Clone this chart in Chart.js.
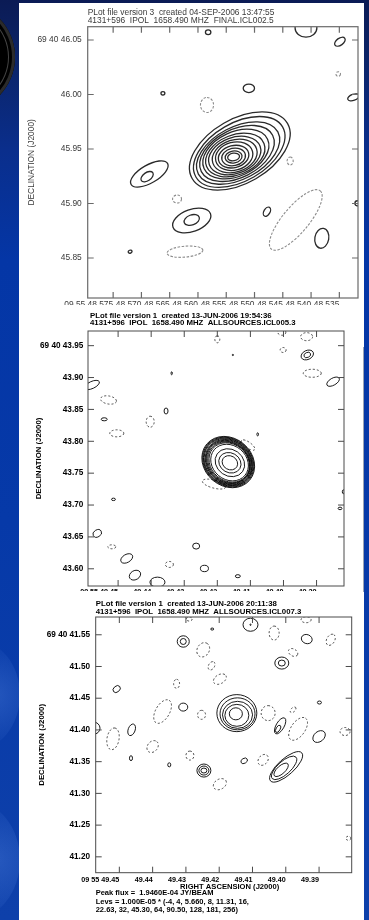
<!DOCTYPE html>
<html>
<head>
<meta charset="utf-8">
<script src="https://cdn.jsdelivr.net/npm/chart.js@4.4.1/dist/chart.umd.min.js"></script>
<style>
  html, body { margin: 0; padding: 0; }
  body {
    width: 369px; height: 920px; overflow: hidden; position: relative;
    background: linear-gradient(180deg, #0b1b55 0px, #0b2468 60px, #0a2e8c 150px, #0436a6 260px, #0639a8 520px, #0e40aa 920px);
  }
  .orb { position: absolute; border-radius: 50%; }
  #sheet { position: absolute; left: 19px; top: 3px; width: 345px; height: 917px; background: #fff; }
  .panel { position: absolute; left: 19px; width: 345px; overflow: hidden; }
  .panel canvas { position: absolute; left: 0; top: 0; }
  #edge2 { position: absolute; left: 363px; top: 347px; width: 1px; height: 245px; background: #9aa3b5; }
</style>
</head>
<body>
<div class="orb" style="left:-95px;top:2px;width:110px;height:110px;background:#000;box-shadow:inset 0 0 0 3px #2b2b2b, inset 0 0 0 6px #000, inset 0 0 0 7px #444;"></div>
<div class="orb" style="left:-70px;top:640px;width:90px;height:110px;background:radial-gradient(circle at 70% 50%, rgba(70,120,215,0.45), rgba(70,120,215,0) 70%);"></div>
<div class="orb" style="left:-80px;top:800px;width:100px;height:120px;background:radial-gradient(circle at 75% 50%, rgba(70,120,215,0.45), rgba(70,120,215,0) 70%);"></div>
<div id="sheet"></div>
<div id="edge2"></div>
<div class="panel" style="top:3px;height:302px;"><canvas id="c1" width="345" height="330" style="filter:blur(0.45px)"></canvas></div>
<div class="panel" style="top:305px;height:286px;"><canvas id="c2" width="345" height="310"></canvas></div>
<div class="panel" style="top:591px;height:329px;"><canvas id="c3" width="345" height="329"></canvas></div>

<script>
// ---------- FINAL.ICL002.5 (04-SEP-2006) ----------
const p1RaTicks  = [48.575, 48.570, 48.565, 48.560, 48.555, 48.550, 48.545, 48.540, 48.535];
const p1RaLabels = ['09 55 48.575', '48.570', '48.565', '48.560', '48.555', '48.550', '48.545', '48.540', '48.535'];
const p1DecTicks  = [46.05, 46.00, 45.95, 45.90, 45.85];
const p1DecLabels = ['69 40 46.05', '46.00', '45.95', '45.90', '45.85'];
const p1RaRange  = [48.5317, 48.5795];
const p1DecRange = [45.8133, 46.0622];
// contour ellipses: centre (RA s, Dec arcsec), semi-axes (mas), position angle (deg), level
const p1RA = [48.5582, 48.5409, 48.5349, 48.5352, 48.5662, 48.5510, 48.5325, 48.5584,
  48.5526, 48.5527, 48.5529, 48.5531, 48.5533, 48.5534, 48.5535, 48.5535, 48.5536, 48.5537, 48.5537, 48.5537, 48.5537,
  48.5686, 48.5690, 48.5637, 48.5611, 48.5611, 48.5623, 48.5720, 48.5437, 48.5478, 48.5427, 48.5381, 48.5318];
const p1Dec = [46.0571, 46.0610, 46.0484, 46.0188, 46.0011, 46.0057, 45.9974, 45.9904,
  45.9482, 45.9473, 45.9463, 45.9459, 45.9454, 45.9445, 45.9440, 45.9436, 45.9434, 45.9430, 45.9427, 45.9427, 45.9427,
  45.9271, 45.9246, 45.9041, 45.8844, 45.8849, 45.8558, 45.8558, 45.9390, 45.8925, 45.8849, 45.8681, 45.9002];
const p1Major = [2.5, 10, 5.5, 2.1, 1.8, 5.2, 5.5, 6.9,
  50.5, 45.9, 41.3, 36.7, 32.1, 28.4, 24.8, 21.1, 17.4, 14.2, 11.0, 7.8, 5.5,
  19.3, 6.4, 4.1, 18.3, 7.3, 16.5, 1.8, 3.7, 4.6, 34.9, 9.2, 2.3];
const p1Minor = [2.1, 8.3, 3.2, 2.1, 1.6, 3.9, 2.8, 6.0,
  29.4, 26.6, 23.9, 22.0, 20.2, 18.3, 16.5, 14.7, 12.8, 10.1, 8.0, 5.5, 3.5,
  8.3, 3.7, 3.7, 10.1, 4.6, 5.0, 1.4, 2.8, 2.8, 11.9, 6.4, 2.3];
const p1PA = [0, 0, 35, 0, 0, 0, 20, 90,
  30, 30, 28, 27, 25, 22, 20, 18, 15, 14, 12, 10, 10,
  30, 35, 0, 20, 20, 5, 20, 90, 60, 50, 80, 0];
const p1Lev = [4, 4, 4, -4, 4, 4, 4, -4,
  4, 5.66, 8, 11.31, 16, 22.63, 32, 45.3, 64, 90.5, 128, 181, 256,
  4, 5.66, -4, 4, 5.66, -4, 4, -4, 4, -4, 4, 4];

// ---------- ALLSOURCES.ICL005.3 (13-JUN-2006 19:54) ----------
const p2RaTicks  = [49.45, 49.44, 49.43, 49.42, 49.41, 49.40, 49.39];
const p2RaLabels = ['09 55 49.45', '49.44', '49.43', '49.42', '49.41', '49.40', '49.39'];
const p2DecTicks  = [43.95, 43.90, 43.85, 43.80, 43.75, 43.70, 43.65, 43.60];
const p2DecLabels = ['69 40 43.95', '43.90', '43.85', '43.80', '43.75', '43.70', '43.65', '43.60'];
const p2RaRange  = [49.3817, 49.4591];
const p2DecRange = [43.573, 43.973];
const p2RA = [49.4200, 49.4005, 49.3930, 49.4001, 49.3928, 49.3928, 49.3913, 49.3850, 49.4153, 49.4338,
  49.4579, 49.4529, 49.4355, 49.4403, 49.4542, 49.4504, 49.4078, 49.4107, 49.4210,
  49.4167, 49.4167, 49.4167, 49.4167, 49.4166, 49.4166, 49.4166, 49.4165, 49.4164, 49.4163, 49.4162, 49.4162, 49.4162,
  49.3819, 49.3829, 49.4514, 49.4563, 49.4519, 49.4474, 49.4449, 49.4381, 49.4345, 49.4264, 49.4239, 49.4138];
const p2Dec = [43.9600, 43.9710, 43.9641, 43.9432, 43.9354, 43.9354, 43.9067, 43.8935, 43.9354, 43.9067,
  43.8883, 43.8648, 43.8475, 43.8307, 43.8345, 43.8125, 43.8109, 43.7941, 43.7329,
  43.7674, 43.7674, 43.7674, 43.7673, 43.7672, 43.7671, 43.7670, 43.7669, 43.7668, 43.7666, 43.7664, 43.7663, 43.7663,
  43.7208, 43.6947, 43.7089, 43.6555, 43.6345, 43.6162, 43.5900, 43.5790, 43.6068, 43.6356, 43.6005, 43.5884];
const p2Major = [5.5, 6.3, 9.4, 4.7, 10.2, 5.5, 14.1, 11.0, 1.0, 2.4,
  12.6, 12.6, 4.7, 8.6, 4.7, 11.0, 2.4, 12.6, 18.8,
  44.0, 42.7, 41.4, 40.2, 38.9, 37.7, 36.4, 35.2, 33.8, 31.4, 24.3, 18.1, 12.6,
  3.0, 3.0, 3.1, 7.1, 6.3, 10.2, 9.4, 11.8, 6.3, 5.5, 6.3, 3.9];
const p2Minor = [3.9, 4.7, 6.3, 3.9, 7.1, 3.9, 6.3, 5.5, 1.0, 1.0,
  5.5, 6.3, 3.1, 6.3, 2.4, 5.5, 1.3, 4.7, 6.3,
  37.4, 36.3, 35.2, 34.2, 33.1, 32.0, 30.9, 29.9, 28.7, 26.7, 20.7, 15.4, 10.7,
  1.6, 2.0, 1.9, 5.5, 3.1, 6.3, 7.1, 7.9, 4.7, 4.7, 5.0, 2.4];
const p2PA = [90, 0, 0, 0, 25, 25, 0, 30, 0, 90,
  25, -10, 90, 90, 0, 0, 90, -35, -15,
  -40, -40, -40, -40, -40, -40, -40, -40, -40, -40, -35, -30, -30,
  90, 0, 0, 30, 0, 30, 30, 0, 0, 0, 0, 0];
const p2Lev = [-4, -4, -4, -4, 4, 5.66, -4, 4, 4, 4,
  4, -4, 4, -4, 4, -4, 4, -4, -4,
  4, 5.66, 8, 11.31, 16, 22.63, 32, 45.3, 64, 90.5, 128, 181, 256,
  4, 4, 4, 4, -4, 4, 4, 4, -4, 4, 4, 4];

// ---------- ALLSOURCES.ICL007.3 (13-JUN-2006 20:11) ----------
const p3RaTicks  = [49.45, 49.44, 49.43, 49.42, 49.41, 49.40, 49.39];
const p3RaLabels = ['09 55 49.45', '49.44', '49.43', '49.42', '49.41', '49.40', '49.39'];
const p3DecTicks  = [41.55, 41.50, 41.45, 41.40, 41.35, 41.30, 41.25, 41.20];
const p3DecLabels = ['69 40 41.55', '41.50', '41.45', '41.40', '41.35', '41.30', '41.25', '41.20'];
const p3RaRange  = [49.3802, 49.4571];
const p3DecRange = [41.175, 41.578];
const p3RA = [49.4290, 49.4221, 49.4106, 49.4106, 49.4035, 49.3939, 49.3937, 49.3865, 49.4308, 49.4308,
  49.4248, 49.3978, 49.4012, 49.4012, 49.4223, 49.4198, 49.4328, 49.4508, 49.3899,
  49.4147, 49.4145, 49.4145, 49.4147, 49.4150,
  49.4370, 49.4308, 49.4253, 49.4053, 49.4017, 49.4023, 49.3978, 49.3963, 49.3900, 49.3822,
  49.4579, 49.4463, 49.4519, 49.4400, 49.4465, 49.4350, 49.4288, 49.4246, 49.4246, 49.4246,
  49.4198, 49.4125, 49.4068, 49.3999, 49.4005, 49.4014, 49.3812];
const p3Dec = [41.5748, 41.5590, 41.5658, 41.5658, 41.5527, 41.5737, 41.5432, 41.5421, 41.5394, 41.5394,
  41.5263, 41.5221, 41.5054, 41.5054, 41.5011, 41.4801, 41.4727, 41.4644, 41.4432,
  41.4265, 41.4254, 41.4238, 41.4230, 41.4254,
  41.4290, 41.4360, 41.4238, 41.4265, 41.4065, 41.4017, 41.4317, 41.4017, 41.3896, 41.3975,
  41.4028, 41.4002, 41.3860, 41.3738, 41.3555, 41.3450, 41.3596, 41.3360, 41.3360, 41.3360,
  41.3145, 41.3513, 41.3528, 41.3418, 41.3402, 41.3371, 41.2293];
const p3Major = [4.7, 2.4, 11.8, 1.0, 11.0, 7.9, 8.7, 9.5, 9.5, 4.7,
  11.8, 7.9, 11.0, 5.5, 7.1, 11.0, 7.1, 6.3, 3.2,
  31.5, 27.6, 23.7, 18.9, 10.3,
  20.5, 7.1, 7.1, 11.8, 14.2, 6.3, 5.5, 20.5, 11.0, 7.9,
  11.0, 9.5, 17.3, 10.3, 3.9, 3.2, 7.1, 11.0, 7.9, 4.7,
  11.0, 5.5, 9.5, 33.1, 25.2, 14.2, 3.9];
const p3Minor = [3.2, 1.6, 10.3, 1.0, 7.9, 4.7, 7.1, 6.3, 9.0, 4.7,
  9.5, 5.5, 9.5, 4.7, 4.7, 7.1, 4.7, 4.7, 2.4,
  29.2, 25.2, 21.3, 17.3, 9.5,
  11.0, 6.3, 6.3, 11.0, 6.3, 3.2, 3.2, 11.0, 7.9, 6.3,
  9.9, 5.5, 9.5, 7.9, 2.4, 2.4, 6.3, 10.3, 7.1, 3.9,
  7.9, 3.9, 7.1, 12.6, 10.3, 6.3, 3.2];
const p3PA = [0, 0, 0, 0, 90, 0, -20, 60, 0, 0,
  60, -30, 0, 0, 60, 30, 90, 40, 0,
  0, 0, 0, 0, 0,
  60, 0, 90, 90, 60, 60, 45, 55, 40, 0,
  0, 70, 80, 50, 90, 90, 90, 0, 0, 0,
  30, 30, 50, 42, 42, 42, 0];
const p3Lev = [-4, 4, 4, 5.66, -4, -4, 4, -4, 4, 5.66,
  -4, -4, 4, 5.66, -4, -4, -4, 4, 4,
  4, 5.66, 8, 11.31, 16,
  -4, 4, -4, -4, 4, 5.66, -4, -4, 4, -4,
  4, 4, -4, -4, 4, 4, -4, 4, 5.66, 8,
  -4, 4, -4, 4, 5.66, 8, -4];

const FONT = "'Liberation Sans', Arial, Helvetica, sans-serif";

// Draws every contour as an ellipse centred on its parsed point; axes in mas scaled by the Dec axis.
const contourPlugin = {
  id: 'contours',
  afterDatasetsDraw(chart, args, o) {
    const { ctx, chartArea: a, scales: { y } } = chart;
    const k = Math.abs(y.getPixelForValue(y.min) - y.getPixelForValue(y.min + 0.001));
    const pts = chart.getDatasetMeta(0).data;
    ctx.save();
    ctx.beginPath();
    ctx.rect(a.left, a.top, a.right - a.left, a.bottom - a.top);
    ctx.clip();
    pts.forEach((p, i) => {
      const neg = o.lev[i] < 0;
      ctx.beginPath();
      ctx.ellipse(p.x, p.y, o.major[i] * k, o.minor[i] * k, -o.pa[i] * Math.PI / 180, 0, Math.PI * 2);
      ctx.setLineDash(neg ? o.dash : []);
      ctx.strokeStyle = neg ? o.negColor : o.posColor;
      ctx.lineWidth = neg ? o.negWidth : o.posWidth;
      ctx.stroke();
    });
    ctx.restore();
  }
};

// Box around the map with inward tick marks on all four sides.
const framePlugin = {
  id: 'frame',
  afterDraw(chart, args, o) {
    const { ctx, chartArea: a, scales: { x, y } } = chart;
    ctx.save();
    ctx.strokeStyle = o.color;
    ctx.lineWidth = o.width;
    ctx.strokeRect(a.left, a.top, a.right - a.left, a.bottom - a.top);
    ctx.beginPath();
    x.ticks.forEach(t => {
      const px = x.getPixelForValue(t.value);
      ctx.moveTo(px, a.top); ctx.lineTo(px, a.top + o.len);
      ctx.moveTo(px, a.bottom); ctx.lineTo(px, a.bottom - o.len);
    });
    y.ticks.forEach(t => {
      const py = y.getPixelForValue(t.value);
      ctx.moveTo(a.left, py); ctx.lineTo(a.left + o.len, py);
      ctx.moveTo(a.right, py); ctx.lineTo(a.right - o.len, py);
    });
    ctx.stroke();
    ctx.restore();
  }
};

// Header / footer lines placed relative to the plot box.
const captionPlugin = {
  id: 'captions',
  afterDraw(chart, args, o) {
    const { ctx, chartArea: a } = chart;
    ctx.save();
    ctx.fillStyle = o.color;
    ctx.textBaseline = 'middle';
    o.items.forEach(it => {
      ctx.font = it.font;
      ctx.textAlign = it.align || 'left';
      const yy = it.from === 'bottom' ? a.bottom + it.dy : a.top + it.dy;
      ctx.fillText(it.text, a.left + it.dx, yy);
    });
    ctx.restore();
  }
};

function makeMap(id, s) {
  const data = s.ra.map((v, i) => ({ x: v, y: s.dec[i] }));
  return new Chart(document.getElementById(id), {
    type: 'scatter',
    data: { datasets: [{ data, pointRadius: 0, pointHoverRadius: 0, showLine: false }] },
    options: {
      responsive: false,
      animation: false,
      events: [],
      layout: { autoPadding: false, padding: s.pad },
      plugins: {
        legend: { display: false },
        tooltip: { enabled: false },
        contours: { major: s.major, minor: s.minor, pa: s.pa, lev: s.lev, dash: s.dash,
          posColor: s.posColor, negColor: s.negColor, posWidth: s.posWidth, negWidth: s.negWidth },
        frame: { color: s.frameColor, width: s.frameWidth, len: s.tickLen },
        captions: { color: s.textColor, items: s.captions }
      },
      scales: {
        x: {
          type: 'linear', reverse: true, min: s.raRange[0], max: s.raRange[1],
          afterBuildTicks: sc => { sc.ticks = s.raTicks.map(v => ({ value: v })); },
          afterFit: sc => { sc.height = s.xh; },
          grid: { display: false, drawTicks: false, tickLength: 0 },
          border: { display: false },
          ticks: { autoSkip: false, maxRotation: 0, minRotation: 0, align: 'end', padding: s.xPad,
            font: s.xFont, color: s.textColor, callback: (v, i) => s.raLabels[i] }
        },
        y: {
          type: 'linear', min: s.decRange[0], max: s.decRange[1],
          afterBuildTicks: sc => { sc.ticks = s.decTicks.map(v => ({ value: v })); },
          afterFit: sc => { sc.width = s.yw; },
          grid: { display: false, drawTicks: false, tickLength: 0 },
          border: { display: false },
          ticks: { autoSkip: false, padding: s.yPad, font: s.yFont, color: s.textColor,
            callback: (v, i) => s.decLabels[i] },
          title: { display: true, text: 'DECLINATION (J2000)', color: s.textColor, font: s.titleFont,
            padding: { top: s.titlePad, bottom: 0 } }
        }
      }
    },
    plugins: [contourPlugin, framePlugin, captionPlugin]
  });
}

const reg = (px) => ({ family: FONT, size: px, weight: 'normal' });
const bold = (px) => ({ family: FONT, size: px, weight: 'bold' });

makeMap('c1', {
  ra: p1RA, dec: p1Dec, major: p1Major, minor: p1Minor, pa: p1PA, lev: p1Lev,
  raTicks: p1RaTicks, raLabels: p1RaLabels, decTicks: p1DecTicks, decLabels: p1DecLabels,
  raRange: p1RaRange, decRange: p1DecRange,
  pad: { left: 0, right: 6, top: 23.7, bottom: 15 }, yw: 68.7, xh: 20,
  xPad: 2, yPad: 6, titlePad: 8,
  xFont: reg(8.4), yFont: reg(8.4), titleFont: reg(8.4),
  textColor: '#3a3a3a', frameColor: '#6a6a6a', frameWidth: 1.2, tickLen: 6,
  posColor: '#2a2a2a', negColor: '#8c8c8c', posWidth: 1.3, negWidth: 1.1, dash: [2.5, 1.5],
  captions: [
    { text: 'PLot file version 3  created 04-SEP-2006 13:47:55', dx: 0, dy: -14.4, font: "8.4px " + FONT },
    { text: '4131+596  IPOL  1658.490 MHZ  FINAL.ICL002.5', dx: 0, dy: -5.7, font: "8.4px " + FONT }
  ]
});

makeMap('c2', {
  ra: p2RA, dec: p2Dec, major: p2Major, minor: p2Minor, pa: p2PA, lev: p2Lev,
  raTicks: p2RaTicks, raLabels: p2RaLabels, decTicks: p2DecTicks, decLabels: p2DecLabels,
  raRange: p2RaRange, decRange: p2DecRange,
  pad: { left: 0, right: 20, top: 26, bottom: 9 }, yw: 69, xh: 20,
  xPad: 1.5, yPad: 4.7, titlePad: 15.3,
  xFont: bold(7.2), yFont: bold(8.2), titleFont: bold(7.8),
  textColor: '#000', frameColor: '#4a4a4a', frameWidth: 1, tickLen: 6,
  posColor: '#000', negColor: '#222', posWidth: 0.9, negWidth: 0.8, dash: [2, 2],
  captions: [
    { text: 'PLot file version 1  created 13-JUN-2006 19:54:36', dx: 2, dy: -15.3, font: "bold 7.8px " + FONT },
    { text: '4131+596  IPOL  1658.490 MHZ  ALLSOURCES.ICL005.3', dx: 2, dy: -7.7, font: "bold 7.8px " + FONT }
  ]
});

makeMap('c3', {
  ra: p3RA, dec: p3Dec, major: p3Major, minor: p3Minor, pa: p3PA, lev: p3Lev,
  raTicks: p3RaTicks, raLabels: p3RaLabels, decTicks: p3DecTicks, decLabels: p3DecLabels,
  raRange: p3RaRange, decRange: p3DecRange,
  pad: { left: 0, right: 12.3, top: 26, bottom: 31.3 }, yw: 76.7, xh: 16,
  xPad: 3.1, yPad: 5.7, titlePad: 18.3,
  xFont: bold(7.2), yFont: bold(8.2), titleFont: bold(7.8),
  textColor: '#000', frameColor: '#4a4a4a', frameWidth: 1, tickLen: 6,
  posColor: '#000', negColor: '#222', posWidth: 0.9, negWidth: 0.8, dash: [2, 2],
  captions: [
    { text: 'PLot file version 1  created 13-JUN-2006 20:11:38', dx: 0, dy: -13, font: "bold 7.8px " + FONT },
    { text: '4131+596  IPOL  1658.490 MHZ  ALLSOURCES.ICL007.3', dx: 0, dy: -5.3, font: "bold 7.8px " + FONT },
    { text: 'RIGHT ASCENSION (J2000)', dx: 134, dy: 14, from: 'bottom', align: 'center', font: "bold 7.6px " + FONT },
    { text: 'Peak flux =  1.9460E-04 JY/BEAM', dx: 0, dy: 20.6, from: 'bottom', font: "bold 7.5px " + FONT },
    { text: 'Levs = 1.000E-05 * (-4, 4, 5.660, 8, 11.31, 16,', dx: 0, dy: 29, from: 'bottom', font: "bold 7.5px " + FONT },
    { text: '22.63, 32, 45.30, 64, 90.50, 128, 181, 256)', dx: 0, dy: 37.3, from: 'bottom', font: "bold 7.5px " + FONT }
  ]
});
</script>
</body>
</html>
